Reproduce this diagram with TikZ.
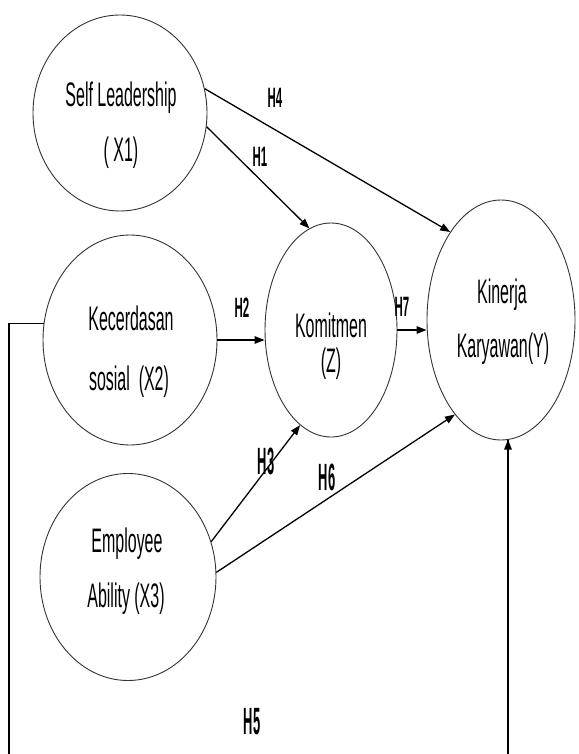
\documentclass[tikz,border=0pt]{standalone}
\usepackage{fontspec}
\setmainfont{Liberation Sans}
\newfontfamily\txtfont{Liberation Sans}[FakeStretch=0.47]
\newfontfamily\hfont{Liberation Sans}[FakeStretch=0.41]
\newfontfamily\hfontb{Liberation Sans}[FakeStretch=0.34]
\usetikzlibrary{shapes.geometric,arrows.meta}
\tikzset{
  var/.style={ellipse, draw=black!80, line width=0.9pt, inner sep=0pt},
  txt/.style={anchor=base, inner sep=0pt, font=\txtfont\fontsize{34}{40}\selectfont},
  hl/.style={inner sep=0pt, font=\hfont\bfseries\fontsize{28}{32}\selectfont},
  hlb/.style={inner sep=0pt, font=\hfontb\bfseries\fontsize{38}{44}\selectfont},
  arr/.style={line width=1.3pt, -{Triangle[length=10pt,width=7.5pt]}},
}
\begin{document}
\begin{tikzpicture}[x=1pt,y=-1pt]
\useasboundingbox (0,0) rectangle (578,754);
% variables
\node[var, minimum width=174pt, minimum height=196pt] (x1) at (120,113) {};
\node[var, minimum width=174pt, minimum height=210pt] (x2) at (130,340) {};
\node[var, minimum width=132pt, minimum height=214pt] (z) at (331,330) {};
\node[var, minimum width=148pt, minimum height=240pt] (y) at (501,320) {};
\node[var, minimum width=176pt, minimum height=207pt] (x3) at (128,577) {};
% texts
\node[txt] (x1a) at (121,107) {Self Leadership};
\node[txt] (x1b) at (121,162) {( X1)};
\node[txt] (x2a) at (131,330) {Kecerdasan};
\node[txt] (x2b) at (129,390) {sosial\ \ (X2)};
\node[txt] (za) at (331,337) {Komitmen};
\node[txt] (zb) at (331,372) {(Z)};
\node[txt] (ya) at (502,303) {Kinerja};
\node[txt] (yb) at (503,357) {Karyawan(Y)};
\node[txt] (x3a) at (127,552) {Employee};
\node[txt] (x3b) at (126,607) {Ability (X3)};
% connectors
\draw[arr] (x1.16) -- (y.120.5);
\draw[arr] (x1.-9) -- (z.102.5);
\draw[arr] (x2.east) -- (x2.east -| z.west);
\draw[arr] (z.east) -- (z.east -| y.west);
\draw[arr] (x3.23.8) -- (z.252.4);
\draw[arr] (x3.3.3) -- (y.244.4);
\coordinate (h5a) at (9,780);
\coordinate (h5b) at (508,780);
\coordinate (h5c) at (508,439.5);
\begin{scope}
\clip (0,0) rectangle (578,754);
\draw[line width=1.2pt] (x2.169) -| (h5a) -- (h5b) -- (h5c);
\end{scope}
\draw[arr, line width=1.2pt] (508,700) -- (h5c);
% hypothesis labels
\node[hl] (h4) at (275,98) {H4};
\node[hl] (h1) at (260,157) {H1};
\node[hl] (h2) at (242,308) {H2};
\node[hl] (h7) at (402,307) {H7};
\node[hlb] (h3) at (266,461) {H3};
\node[hlb] (h6) at (327,477) {H6};
\node[hlb] (h5) at (252,722) {H5};
\end{tikzpicture}
\end{document}
